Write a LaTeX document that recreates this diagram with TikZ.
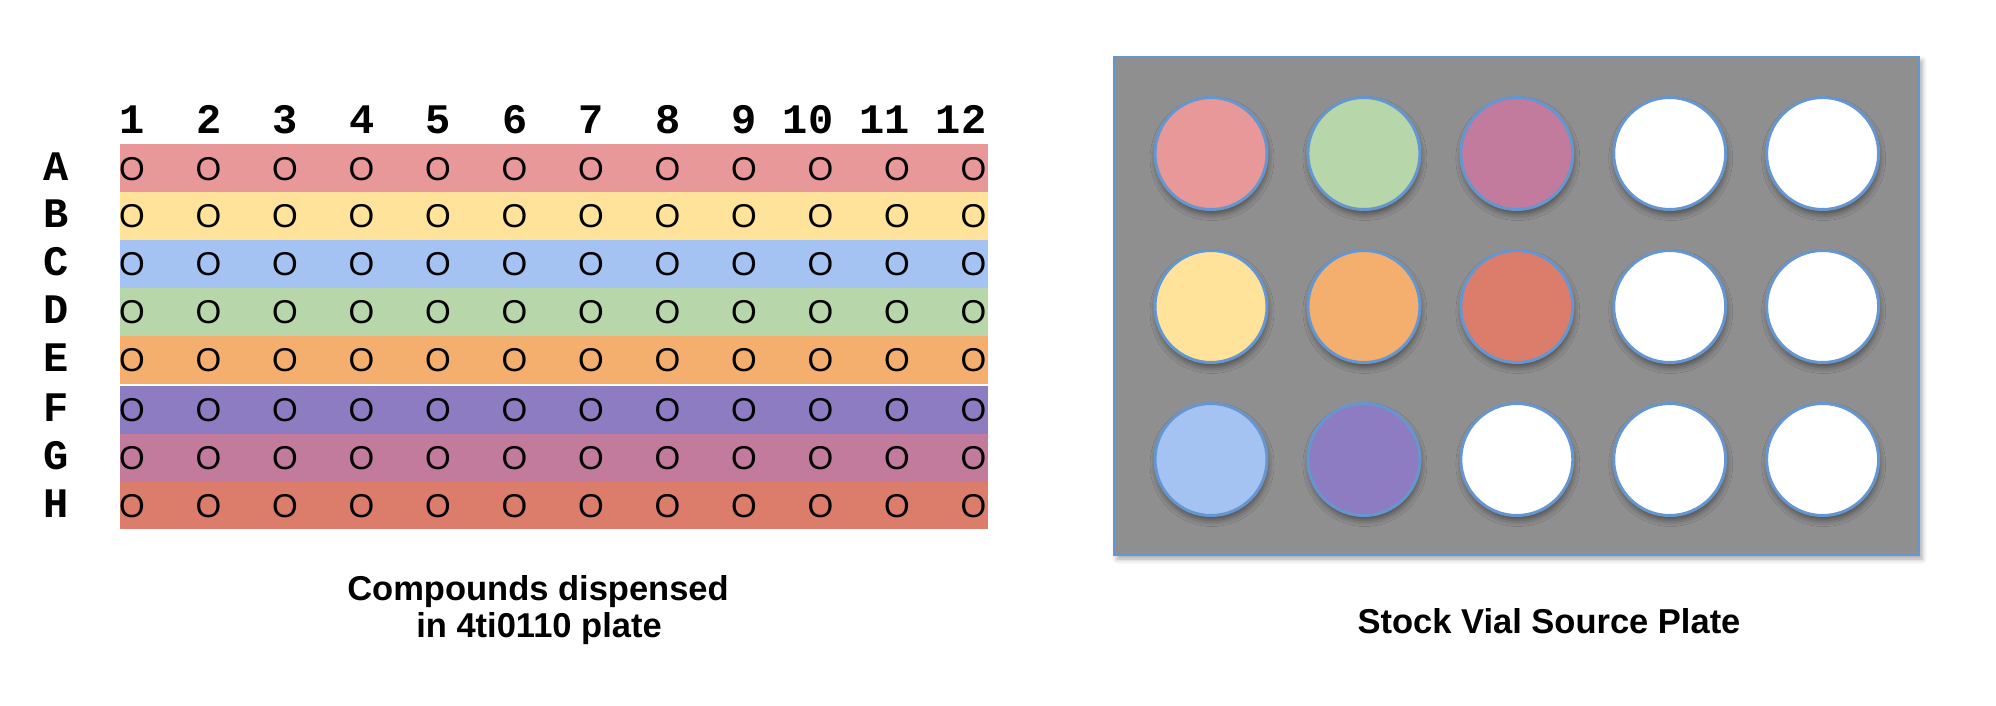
\documentclass[tikz,border=0pt]{standalone}
\usepackage{fontspec}
\setmainfont{Liberation Sans}
\newfontfamily\monofnt{Liberation Mono}
\usetikzlibrary{shadows.blur}
\definecolor{cA}{HTML}{E89898}
\definecolor{cB}{HTML}{FFE39B}
\definecolor{cC}{HTML}{A4C2F2}
\definecolor{cD}{HTML}{B7D6A9}
\definecolor{cE}{HTML}{F4AF6F}
\definecolor{cF}{HTML}{8E7CC2}
\definecolor{cG}{HTML}{C27A9D}
\definecolor{cH}{HTML}{DC7C6A}
\definecolor{plategray}{HTML}{8F8F8F}
\definecolor{vialedge}{HTML}{6596CF}
\begin{document}
\begin{tikzpicture}[x=1pt,y=-1pt,
  hdr/.style={font=\monofnt\bfseries\fontsize{42}{42}\selectfont, inner sep=0pt},
  well/.style={font=\fontsize{33}{33}\selectfont, inner sep=0pt, anchor=base},
  vial/.style={circle, draw=vialedge, line width=3pt, minimum size=112pt, inner sep=0pt,
    blur shadow={shadow xshift=1pt, shadow yshift=-5pt, shadow blur radius=6pt, shadow opacity=45}},
  caption/.style={font=\bfseries\fontsize{34.5}{40}\selectfont, inner sep=0pt, anchor=base}]
\useasboundingbox (0,0) rectangle (1996,706);
% row bands
\foreach \r/\c/\yt/\yb in {A/cA/144/192.2,B/cB/191.9/240.1,C/cC/239.8/288,D/cD/287.7/335.9,E/cE/335.6/383.5,F/cF/386/434.1,G/cG/433.8/481.9,H/cH/481.6/529.4}{
  \fill[\c] (120,\yt) rectangle (988,\yb);
}
% column headers
\foreach \j in {1,...,12}{
  \pgfmathsetmacro{\cx}{132+76.5*(\j-1)}
  \node[hdr, anchor=base east] (h\j) at (\cx+13,133) {\j};
}
% row labels and wells
\foreach \r/\yc in {A/168,B/215.9,C/263.8,D/311.7,E/359.6,F/409.9,G/457.7,H/505.5}{
  \node[hdr, anchor=base] (r\r) at (56.5,\yc+12) {\r};
  \foreach \j in {1,...,12}{
    \pgfmathsetmacro{\cx}{132+76.5*(\j-1)}
    \node[well] (w\r\j) at (\cx,\yc+12) {O};
  }
}
% source plate
\node[draw=vialedge, fill=plategray, line width=2pt, minimum width=805pt, minimum height=498pt, inner sep=0pt,
  blur shadow={shadow xshift=3pt, shadow yshift=-4pt, shadow blur radius=5pt, shadow opacity=35}] (plate) at (1516.5,306) {};
\foreach \i/\j/\c in {1/1/cA,1/2/cD,1/3/cG,1/4/white,1/5/white,
                      2/1/cB,2/2/cE,2/3/cH,2/4/white,2/5/white,
                      3/1/cC,3/2/cF,3/3/white,3/4/white,3/5/white}{
  \pgfmathsetmacro{\vx}{1211+152.9*(\j-1)}
  \pgfmathsetmacro{\vy}{153.5+153*(\i-1)}
  \node[vial, fill=\c] (v\i\j) at (\vx,\vy) {};
}
% captions
\node[caption] (cap1a) at (538,600) {Compounds dispensed};
\node[caption] (cap1b) at (539,637) {in 4ti0110 plate};
\node[caption] (cap2) at (1549,633) {Stock Vial Source Plate};
\end{tikzpicture}
\end{document}
